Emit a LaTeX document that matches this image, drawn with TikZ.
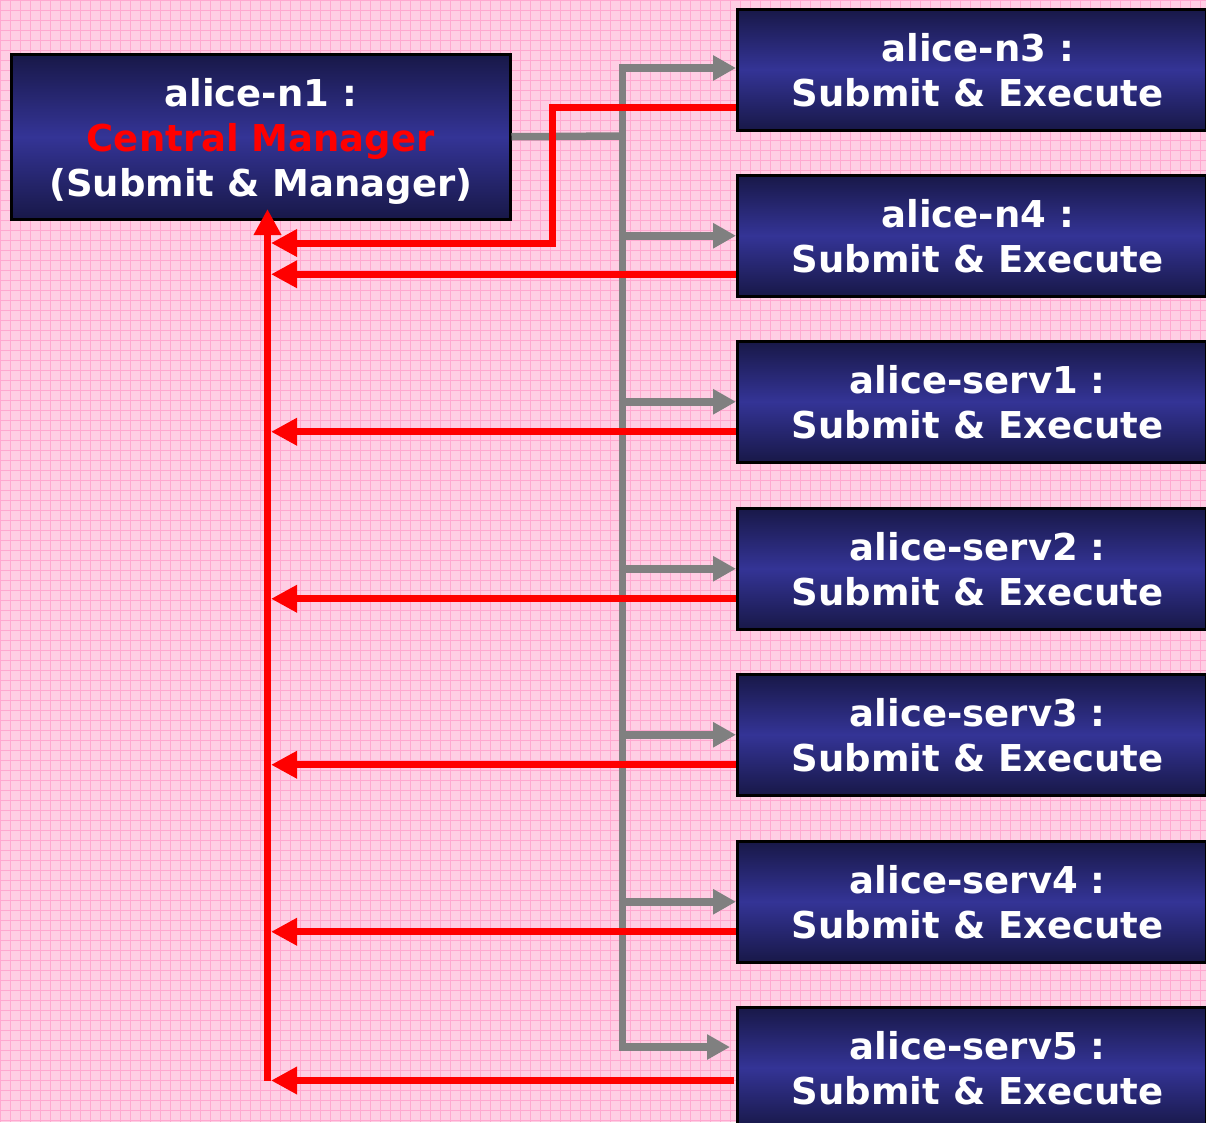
\documentclass[tikz,border=0pt]{standalone}
\usepackage{fontspec}
\setmainfont{DejaVu Sans}
\usetikzlibrary{arrows.meta}
\definecolor{bgpink}{RGB}{255,206,228}
\definecolor{gridpink}{RGB}{255,168,208}
\definecolor{navyD}{RGB}{24,24,72}
\definecolor{navyM}{RGB}{52,52,150}
\definecolor{linegray}{RGB}{128,128,128}
\definecolor{pured}{RGB}{255,0,0}
\newcommand\twolines[2]{\hspace*{12pt}#1\\\hspace*{12pt}#2}
\begin{document}
\begin{tikzpicture}[x=1pt,y=-1pt,
  box/.style={draw=black, line width=2.5pt, top color=navyD, bottom color=navyD, middle color=navyM,
    text=white, font=\fontsize{37}{45}\selectfont\bfseries, align=center, inner sep=0pt,
    minimum width=469pt, minimum height=121pt, anchor=north west},
  gline/.style={draw=linegray, line width=7.5pt},
  garrow/.style={gline, -{Triangle[length=23pt,width=24pt]}},
  rline/.style={draw=pured, line width=7pt},
  rarrow/.style={rline, -{Triangle[length=26pt,width=26pt]}}]
\useasboundingbox (0,0) rectangle (1206,1122);
\clip (0,0) rectangle (1206,1122);
\fill[bgpink] (0,1122) rectangle (1206,0);
\draw[gridpink, line width=1pt, step=10pt] (0,1122) grid (1206,0);

% nodes
\node[box, minimum width=499pt, minimum height=165pt] (c1) at (10,53)
  {\rule{0pt}{38pt}alice-n1 :\\ \textcolor{pured}{Central Manager}\\ (Submit \& Manager)};
\node[box] (n3) at (736,8)    {\twolines{alice-n3 :}{Submit \& Execute}};
\node[box] (n4) at (736,174)  {\twolines{alice-n4 :}{Submit \& Execute}};
\node[box] (s1) at (736,340)  {\twolines{alice-serv1 :}{Submit \& Execute}};
\node[box] (s2) at (736,507)  {\twolines{alice-serv2 :}{Submit \& Execute}};
\node[box] (s3) at (736,673)  {\twolines{alice-serv3 :}{Submit \& Execute}};
\node[box] (s4) at (736,840)  {\twolines{alice-serv4 :}{Submit \& Execute}};
\node[box] (s5) at (736,1006) {\twolines{alice-serv5 :}{Submit \& Execute}};

% gray distribution tree
\coordinate (gj) at (622.5,136);
\coordinate (gtop) at (622.5,68);
\coordinate (gbot) at (622.5,1047);
\draw[gline] (c1.east) -- (gj);
\draw[gline, line cap=rect] (gtop) -- (gbot);
\draw[garrow] (gtop) -- (n3.west |- gtop);
\foreach \n in {n4,s1,s2,s3,s4}{
  \draw[garrow] (gtop |- \n.west) -- (\n.west);
}
\draw[garrow] (gbot) -- ([xshift=-6pt]s5.west |- gbot);

% red return lines
\coordinate (rv) at (267.5,1080.5);
\coordinate (rtop) at (267.5,209);
\coordinate (rtip) at (271,0);
\draw[rarrow] (rv) -- (rtop);
\coordinate (rbend) at (552,107);
\coordinate (rbend2) at (552,243);
\draw[rarrow] (n3.west |- rbend) -- (rbend) -- (rbend2) -- (rtip |- rbend2);
\coordinate (r4) at ([yshift=-38.5pt]n4.west);
\draw[rarrow] (r4) -- (rtip |- r4);
\foreach \n in {s1,s2,s3,s4}{
  \coordinate (r\n) at ([yshift=-30pt]\n.west);
  \draw[rarrow] (r\n) -- (rtip |- r\n);
}
\coordinate (r5) at ([xshift=-2pt]s5.west |- rv);
\draw[rarrow] (r5) -- (rtip |- r5);
\end{tikzpicture}
\end{document}
